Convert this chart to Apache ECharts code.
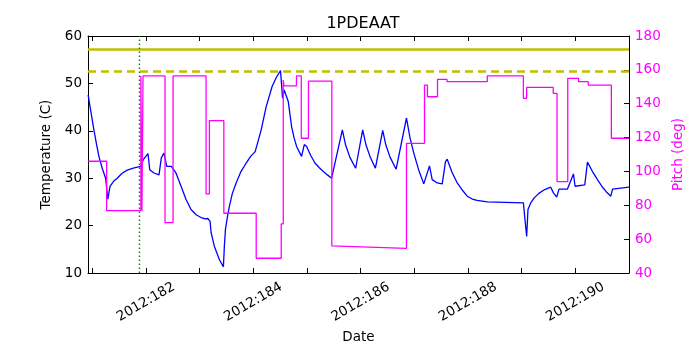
<!DOCTYPE html>
<html>
<head>
<meta charset="utf-8">
<title>1PDEAAT</title>
<script src="https://cdn.jsdelivr.net/npm/echarts@6/dist/echarts.min.js"></script>
<style>
  html, body { margin: 0; padding: 0; background: #fff; }
  #chart { width: 700px; height: 350px; }
</style>
</head>
<body>
<div id="chart"></div>
<script>
// fractional day of year 2012 -> temperature (C)
const tempDays = [
  180.923, 180.968, 181.03, 181.08, 181.123, 181.185, 181.248, 181.29, 181.33, 181.40,
  181.465, 181.55, 181.65, 181.78, 181.902, 181.95, 182.038, 182.07, 182.15, 182.243,
  182.262, 182.286, 182.336, 182.387, 182.473, 182.555, 182.654, 182.747, 182.84, 182.934,
  183.027, 183.107, 183.152, 183.195, 183.214, 183.275, 183.369, 183.443, 183.46, 183.481,
  183.52, 183.555, 183.61, 183.68, 183.77, 183.867, 183.95, 184.035, 184.067, 184.147,
  184.24, 184.352, 184.43, 184.507, 184.545, 184.576, 184.651, 184.713, 184.76, 184.806,
  184.899, 184.95, 184.993, 185.07, 185.149, 185.23, 185.304, 185.38, 185.459, 185.659,
  185.72, 185.80, 185.907, 186.038, 186.10, 186.18, 186.275, 186.411, 186.47, 186.55,
  186.661, 186.854, 186.92, 186.99, 187.08, 187.176, 187.283, 187.333, 187.427, 187.52,
  187.581, 187.613, 187.70, 187.80, 187.90, 187.986, 188.08, 188.17, 188.36, 189.032,
  189.093, 189.118, 189.17, 189.23, 189.32, 189.43, 189.541, 189.592, 189.653, 189.696,
  189.853, 189.965, 189.995, 190.176, 190.226, 190.256, 190.32, 190.413, 190.50, 190.58,
  190.661, 190.693, 191.0
]
const tempValues = [
  47.6, 44.4, 40.2, 37.1, 34.6, 32.1, 30.0, 25.6, 28.3, 29.4,
  30.0, 31.0, 31.7, 32.2, 32.5, 33.9, 35.2, 31.8, 31.1, 30.7,
  30.5, 34.3, 35.3, 32.5, 32.5, 31.2, 28.3, 25.5, 23.4, 22.3,
  21.7, 21.4, 21.5, 20.9, 18.5, 15.6, 12.8, 11.3, 15.5, 19.2,
  22.0, 24.1, 26.8, 29.0, 31.4, 33.2, 34.6, 35.6, 35.9, 40.2,
  45.1, 49.4, 51.3, 52.7, 46.9, 48.6, 46.2, 40.9, 38.5, 36.7,
  34.6, 37.1, 36.7, 34.8, 33.2, 32.2, 31.4, 30.7, 30.0, 40.2,
  37.0, 34.4, 32.1, 40.2, 37.0, 34.4, 32.1, 40.1, 37.0, 34.4,
  31.9, 42.7, 38.5, 35.3, 31.8, 28.8, 32.6, 29.7, 29.0, 28.8,
  33.5, 34.0, 31.3, 29.0, 27.4, 26.2, 25.6, 25.3, 25.0, 24.8,
  17.7, 23.4, 24.8, 25.8, 26.8, 27.6, 28.1, 26.9, 26.0, 27.7,
  27.7, 30.9, 28.3, 28.6, 33.4, 33.5, 31.4, 29.7, 28.2, 27.1,
  26.2, 27.7, 28.1
]

// fractional day of year 2012 -> pitch (deg)
const pitchDays = [
  180.923, 181.267, 181.267, 181.905, 181.905, 181.925, 181.925, 181.945, 181.945, 182.355,
  182.355, 182.505, 182.505, 183.12, 183.12, 183.182, 183.182, 183.451, 183.451, 184.054,
  184.054, 184.52, 184.52, 184.558, 184.558, 184.572, 184.572, 184.804, 184.804, 184.894,
  184.894, 185.028, 185.028, 185.463, 185.463, 186.854, 186.854, 187.19, 187.19, 187.245,
  187.245, 187.432, 187.432, 187.609, 187.609, 188.36, 188.36, 189.032, 189.032, 189.093,
  189.093, 189.588, 189.588, 189.659, 189.659, 189.859, 189.859, 190.06, 190.06, 190.241,
  190.241, 190.671, 190.671, 191.0
]
const pitchValues = [
  106, 106, 76.8, 76.8, 156.4, 156.4, 76.8, 76.8, 156.4, 156.4,
  69.7, 69.7, 156.4, 156.4, 86.7, 86.7, 130, 130, 75.3, 75.3,
  48.7, 48.7, 69, 69, 154, 154, 150.5, 150.5, 156.4, 156.4,
  119.6, 119.6, 153.4, 153.4, 56, 54.6, 116.6, 116.6, 151, 151,
  144.1, 144.1, 154.4, 154.4, 153, 153, 156.4, 156.4, 143.2, 143.2,
  149.7, 149.7, 146.1, 146.1, 94, 94, 155, 155, 153, 153,
  151, 151, 119.6, 119.6
]

const dayTicks = [181, 182, 183, 184, 185, 186, 187, 188, 189, 190, 191]
const dayLabels = [182, 184, 186, 188, 190]
const tempLimits = [57.1, 52.5]
const eventDays = [181.87]

const font = 'DejaVu Sans'
const chart = echarts.init(document.getElementById('chart'))

const xCommon = {
  type: 'value',
  min: 180.92,
  max: 191.0,
  splitLine: { show: false },
  axisLine: { lineStyle: { color: '#000', width: 1 } },
  axisTick: {
    inside: true,
    length: 5,
    customValues: dayTicks,
    lineStyle: { color: '#000' }
  }
}

chart.setOption({
  animation: false,
  backgroundColor: '#fff',
  title: {
    text: '1PDEAAT',
    left: 358,
    top: 11,
    textAlign: 'center',
    textStyle: { fontFamily: font, fontSize: 16, fontWeight: 'normal', color: '#000' }
  },
  grid: { left: 88, right: 71, top: 36, bottom: 77 },
  xAxis: [
    Object.assign({}, xCommon, {
      position: 'bottom',
      name: 'Date',
      nameLocation: 'middle',
      nameGap: 51,
      nameTextStyle: { fontFamily: font, fontSize: 13.5, color: '#000' },
      axisLabel: {
        customValues: dayLabels,
        rotate: 30,
        align: 'center',
        verticalAlign: 'middle',
        margin: 29,
        fontFamily: font,
        fontSize: 13.5,
        color: '#000',
        formatter: v => '2012:' + Math.round(v)
      }
    }),
    Object.assign({}, xCommon, {
      position: 'top',
      axisLabel: { show: false }
    })
  ],
  yAxis: [
    {
      type: 'value',
      position: 'left',
      min: 10,
      max: 60,
      interval: 10,
      name: 'Temperature (C)',
      nameLocation: 'middle',
      nameGap: 33,
      nameTextStyle: { fontFamily: font, fontSize: 13.5, color: '#000' },
      splitLine: { show: false },
      axisLine: { show: true, lineStyle: { color: '#000' } },
      axisTick: { show: true, inside: true, length: 5, lineStyle: { color: '#000' } },
      axisLabel: { fontFamily: font, fontSize: 13.5, color: '#000', margin: 6 }
    },
    {
      type: 'value',
      position: 'right',
      min: 40,
      max: 180,
      interval: 20,
      name: 'Pitch (deg)',
      nameLocation: 'middle',
      nameGap: 37,
      nameTextStyle: { fontFamily: font, fontSize: 13.5, color: '#ff00ff' },
      splitLine: { show: false },
      axisLine: { show: true, lineStyle: { color: '#000' } },
      axisTick: { show: true, inside: true, length: 5, lineStyle: { color: '#000' } },
      axisLabel: { fontFamily: font, fontSize: 13.5, color: '#ff00ff', margin: 6 }
    }
  ],
  series: [
    {
      name: 'Temperature',
      type: 'line',
      xAxisIndex: 0,
      yAxisIndex: 0,
      showSymbol: false,
      data: tempDays.map((d, i) => [d, tempValues[i]]),
      lineStyle: { color: '#0000ff', width: 1.3 },
      markLine: {
        silent: true,
        symbol: ['none', 'none'],
        label: { show: false },
        data: [
          { yAxis: tempLimits[0], lineStyle: { color: '#bfbf00', width: 2.6, type: 'solid' } },
          { yAxis: tempLimits[1], lineStyle: { color: '#bfbf00', width: 2.6, type: [8, 5] } },
          { xAxis: eventDays[0], lineStyle: { color: '#008000', width: 1.4, type: [1.5, 2.5] } }
        ]
      }
    },
    {
      name: 'Pitch',
      type: 'line',
      xAxisIndex: 0,
      yAxisIndex: 1,
      showSymbol: false,
      data: pitchDays.map((d, i) => [d, pitchValues[i]]),
      lineStyle: { color: '#ff00ff', width: 1.3 }
    }
  ]
})
</script>
</body>
</html>
